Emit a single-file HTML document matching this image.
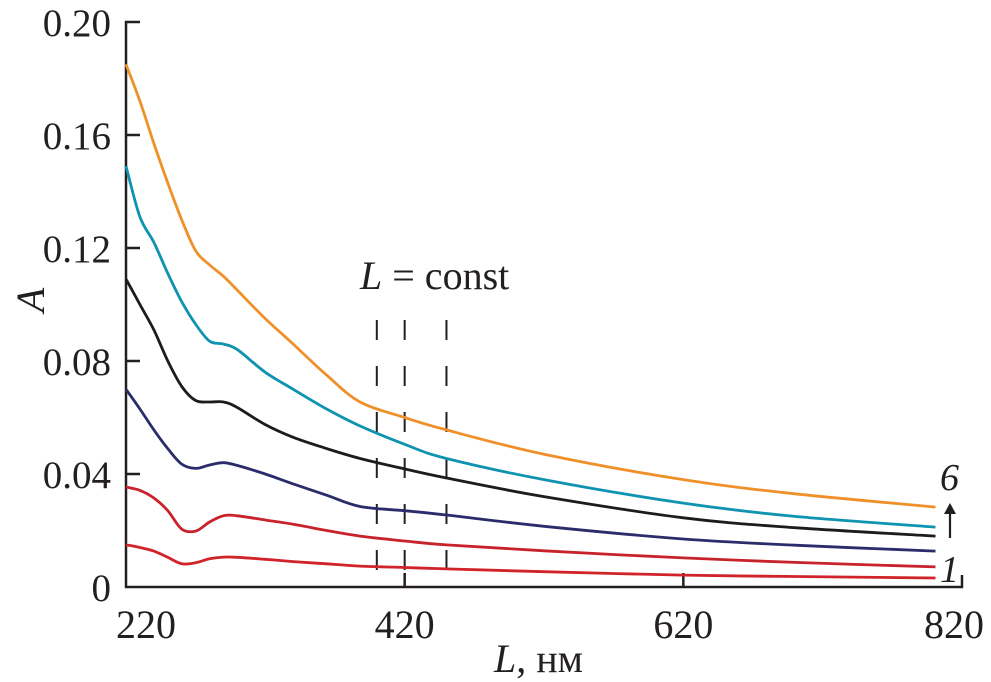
<!DOCTYPE html>
<html><head><meta charset="utf-8"><style>
body{margin:0;background:#fff}
svg text{font-family:"Liberation Serif",serif;fill:#231f20}
</style></head><body>
<svg id="chart" width="991" height="682" viewBox="0 0 991 682" xmlns="http://www.w3.org/2000/svg" style="position:absolute;left:0;top:0">
<g id="axes"></g>
<g id="series"></g>
</svg>
<script>
const xTicks=[220,420,620,820];
const yTicks=[0,0.04,0.08,0.12,0.16,0.20];
const yTickLabels=["0","0.04","0.08","0.12","0.16","0.20"];
const xTickLabels=["220","420","620","820"];
const constLines=[400,420,450];
const seriesX=[220,230,240,250,260,270,280,290,300,320,340,364,388,420,450,520,620,700,801];
const s1=[0.0149,0.0140,0.0127,0.0105,0.0082,0.0086,0.0100,0.0106,0.0105,0.0098,0.0090,0.0082,0.0074,0.0069,0.0064,0.0054,0.0042,0.0037,0.0032];
const s2=[0.0354,0.0342,0.0315,0.0270,0.0205,0.0198,0.0230,0.0252,0.0252,0.0237,0.0222,0.0200,0.0180,0.0163,0.0149,0.0128,0.0103,0.0087,0.0071];
const s3=[0.0700,0.0630,0.0556,0.0490,0.0435,0.0420,0.0432,0.0440,0.0430,0.0400,0.0365,0.0325,0.0285,0.0270,0.0255,0.0215,0.0170,0.0148,0.0127];
const s4=[0.1090,0.1000,0.0910,0.0800,0.0710,0.0660,0.0655,0.0655,0.0635,0.0575,0.0530,0.0490,0.0455,0.0418,0.0386,0.0320,0.0245,0.0210,0.0180];
const s5=[0.1490,0.1310,0.1220,0.1110,0.1010,0.0930,0.0870,0.0860,0.0840,0.0760,0.0700,0.0630,0.0570,0.0505,0.0455,0.0380,0.0297,0.0250,0.0212];
const s6=[0.1850,0.1720,0.1570,0.1430,0.1300,0.1190,0.1140,0.1100,0.1050,0.0950,0.0860,0.0750,0.0655,0.0600,0.0556,0.0470,0.0380,0.0330,0.0283];
const allSeries=[s1,s2,s3,s4,s5,s6];
const colors=["#d1232a","#c8222b","#2b2d6b","#1c1c1c","#0e93b0","#f0902a"];
const NS="http://www.w3.org/2000/svg";
function X(v){return 126+(v-220)*(962-126)/600;}
function Y(v){return 587-v*2825;}
function mk(tag,attrs,parent){const e=document.createElementNS(NS,tag);for(const k in attrs)e.setAttribute(k,attrs[k]);parent.appendChild(e);return e;}
function smooth(pts){let d=`M${pts[0][0].toFixed(1)} ${pts[0][1].toFixed(1)}`;
 for(let i=0;i<pts.length-1;i++){const p0=pts[Math.max(0,i-1)],p1=pts[i],p2=pts[i+1],p3=pts[Math.min(pts.length-1,i+2)];
  const c1=[p1[0]+(p2[0]-p0[0])/6,p1[1]+(p2[1]-p0[1])/6],c2=[p2[0]-(p3[0]-p1[0])/6,p2[1]-(p3[1]-p1[1])/6];
  d+=`C${c1[0].toFixed(1)} ${c1[1].toFixed(1)} ${c2[0].toFixed(1)} ${c2[1].toFixed(1)} ${p2[0].toFixed(1)} ${p2[1].toFixed(1)}`;}
 return d;}
const axes=document.getElementById('axes'),ser=document.getElementById('series');
let a=mk('path',{d:`M${X(220)+14} ${Y(0.2)}H${X(220)}V${Y(0)}H${X(820)}V${Y(0)-12}`,stroke:'#231f20','stroke-width':2.5,fill:'none'},axes);


yTicks.forEach((t,i)=>{
 if(i>0&&i<yTicks.length-1){const l=mk('line',{x1:X(220),x2:X(220)+14,y1:Y(t),y2:Y(t),stroke:'#231f20','stroke-width':2.5},axes);
 
 }
 const tx=mk('text',{x:111,y:Y(t)+14,'text-anchor':'end','font-size':39},axes);tx.textContent=yTickLabels[i];
 
 
});
xTicks.forEach((t,i)=>{
 if(i>0&&i<xTicks.length-1){const l=mk('line',{x1:X(t),x2:X(t),y1:Y(0),y2:Y(0)-14,stroke:'#231f20','stroke-width':2.5},axes);
 
 }
 const tx=mk('text',{x:X(t)+(i==0?20:i==3?-8:0),y:638,'text-anchor':'middle','font-size':40},axes);tx.textContent=xTickLabels[i];
 
 
});
constLines.forEach(c=>{
 const l=mk('line',{x1:X(c),x2:X(c),y1:303,y2:Y(0),stroke:'#231f20','stroke-width':2,'stroke-dasharray':'20 26','stroke-dashoffset':'-17'},axes);
 
 
});
allSeries.forEach((s,i)=>{
 const pts=s.map((v,j)=>[X(seriesX[j]),Y(v)]);
 const p=mk('path',{d:smooth(pts),stroke:colors[i],'stroke-width':2.8,fill:'none','stroke-linejoin':'round'},ser);
 
 
});
</script>
<svg style="position:absolute;left:0;top:0" width="991" height="682">
<text x="360" y="289" font-size="40"><tspan font-style="italic">L</tspan> = const</text>
<text transform="translate(44,300) rotate(-90)" font-size="40" font-style="italic" text-anchor="middle">A</text>
<text x="494" y="672" font-size="40"><tspan font-style="italic">L</tspan>, нм</text>
<text x="940" y="490" font-size="38" font-style="italic">6</text>
<text x="940" y="582" font-size="38" font-style="italic">1</text>
<g><line x1="950" y1="538" x2="950" y2="512" stroke="#231f20" stroke-width="2.2"/><path d="M944 514L950 503L956 514Z" fill="#231f20"/></g>
</svg>
</body></html>
